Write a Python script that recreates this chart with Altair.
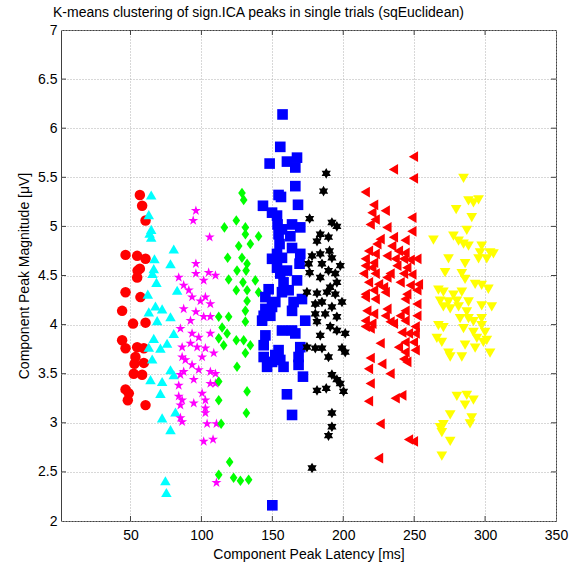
import altair as alt
import pandas as pd

# ---- data (latency ms, magnitude uV) ----
c1_x = [56.6, 58.2, 60.6, 46.5, 54.7, 60.6, 56.6, 54.7, 57.0, 46.5, 44.1, 51.8, 60.6, 44.1, 46.5,
        54.7, 59.4, 53.5, 52.8, 59.4, 52.3, 58.2, 46.5, 48.8, 48.1, 60.6, 55.0]
c1_y = [5.32, 5.21, 5.06, 4.71, 4.70, 4.67, 4.57, 4.48, 4.28, 4.33, 4.14, 4.01, 4.02, 3.84, 3.76,
        3.77, 3.76, 3.67, 3.60, 3.61, 3.50, 3.49, 3.34, 3.30, 3.23, 3.18, 4.55]

c2_x = [64.6, 62.9, 64.6, 64.6, 63.5, 80.5, 66.9, 78.2, 66.4, 65.5, 68.3, 82.9, 62.2, 67.6, 72.3,
        62.9, 78.2, 68.8, 80.5, 66.4, 75.8, 71.1, 62.9, 65.3, 78.2, 64.1, 72.3, 80.5, 71.1, 81.7,
        72.3, 78.2, 74.6, 75.3]
c2_y = [5.32, 5.12, 4.97, 4.89, 4.93, 4.77, 4.67, 4.62, 4.57, 4.52, 4.43, 4.35, 4.31, 4.19, 4.16,
        4.13, 4.08, 4.04, 3.91, 3.86, 3.81, 3.76, 3.77, 3.65, 3.54, 3.44, 3.42, 3.49, 3.30, 3.11,
        3.05, 2.93, 2.41, 2.29]

c3_x = [96.1, 94.2, 105.8, 96.1, 105.1, 109.9, 84.0, 96.1, 101.6, 87.5, 91.1, 93.4, 99.3, 102.8,
        106.3, 87.5, 96.1, 101.6, 92.3, 85.2, 106.3, 93.4, 98.1, 106.3, 92.3, 97.0, 86.4, 102.8,
        108.7, 86.4, 88.7, 100.5, 93.4, 87.5, 98.1, 106.3, 109.9, 85.2, 94.6, 106.3, 109.9, 84.0,
        100.5, 84.0, 86.4, 94.6, 102.8, 85.2, 102.8, 102.8, 85.2, 86.4, 104.0, 110.6, 101.6, 108.2,
        110.6]
c3_y = [5.16, 5.06, 4.89, 4.62, 4.53, 4.50, 4.48, 4.52, 4.45, 4.40, 4.35, 4.28, 4.24, 4.28, 4.21,
        4.16, 4.13, 4.08, 4.04, 3.96, 4.08, 3.91, 3.87, 3.91, 3.81, 3.77, 3.77, 3.76, 3.71, 3.67,
        3.64, 3.67, 3.59, 3.52, 3.54, 3.52, 3.50, 3.49, 3.44, 3.40, 3.40, 3.38, 3.30, 3.27, 3.23,
        3.20, 3.23, 3.18, 3.15, 3.10, 3.05, 3.01, 2.99, 2.99, 2.81, 2.83, 2.39]

c4_x = [128.6, 129.8, 124.6, 116.2, 131.0, 126.3, 118.5, 128.6, 125.1, 119.2, 129.3, 124.6, 132.2,
        112.2, 119.2, 114.6, 118.1, 131.0, 112.2, 115.7, 124.6, 129.8, 131.0, 125.1, 112.2, 132.2,
        112.2, 131.7, 113.9, 119.9, 112.2, 122.7, 127.5, 133.3, 131.0, 140.3, 134.5, 132.2, 131.5,
        138.0, 132.2, 140.3, 131.0, 134.5]
c4_y = [5.34, 5.27, 5.06, 4.99, 4.99, 4.80, 4.68, 4.68, 4.55, 4.46, 4.43, 4.35, 4.24, 4.08, 4.08,
        3.97, 3.91, 4.03, 3.86, 3.79, 3.84, 3.84, 3.71, 3.57, 3.42, 3.32, 3.23, 3.10, 2.99, 2.60,
        2.47, 2.44, 2.41, 2.42, 4.92, 4.90, 4.82, 4.62, 4.55, 4.45, 4.35, 4.33, 4.14, 3.79]

c5_x = [157.2, 155.6, 148.1, 160.3, 167.4, 166.2, 166.2, 154.4, 156.1, 143.4, 168.1, 149.8, 153.3,
        153.7, 156.8, 163.9, 169.7, 154.4, 162.7, 155.1, 163.9, 169.7, 153.3, 149.8, 156.8, 169.2,
        153.3, 160.3, 155.6, 157.9, 167.4, 147.4, 161.5, 156.8, 145.1, 170.9, 152.1, 165.0, 145.1,
        149.8, 163.9, 143.9, 148.6, 142.8, 173.2, 156.8, 163.9, 166.2, 145.1, 169.7, 143.9, 154.4,
        152.1, 168.5, 143.9, 149.8, 155.6, 157.9, 146.3, 168.5, 171.6, 160.3, 163.9, 150.0]
c5_y = [6.14, 5.81, 5.64, 5.66, 5.70, 5.60, 5.41, 5.32, 5.30, 5.21, 5.22, 5.14, 5.11, 5.02, 4.97,
        5.02, 4.99, 4.92, 4.90, 4.82, 4.78, 4.72, 4.72, 4.67, 4.68, 4.62, 4.58, 4.55, 4.52, 4.43,
        4.45, 4.36, 4.35, 4.33, 4.28, 4.26, 4.23, 4.23, 4.16, 4.18, 4.14, 4.09, 4.09, 4.04, 4.04,
        3.94, 3.94, 3.91, 3.89, 3.77, 3.79, 3.74, 3.69, 3.67, 3.67, 3.62, 3.64, 3.57, 3.57, 3.59,
        3.47, 3.29, 3.08, 2.16]

c6_x = [188.0, 186.1, 176.3, 192.0, 195.5, 183.8, 189.6, 181.5, 190.3, 178.0, 183.8, 192.0, 175.6,
        185.0, 197.9, 189.6, 194.4, 176.3, 183.8, 195.5, 190.8, 174.4, 181.5, 188.5, 194.4, 199.1,
        180.3, 185.0, 192.0, 180.3, 187.3, 195.5, 181.5, 190.8, 195.5, 201.4, 183.8, 174.4, 180.3,
        185.0, 199.1, 201.4, 189.6, 192.0, 195.5, 197.9, 181.5, 188.0, 200.2, 192.0, 192.0, 189.6,
        178.0]
c6_y = [5.54, 5.36, 5.08, 5.04, 5.00, 4.92, 4.89, 4.85, 4.75, 4.70, 4.72, 4.68, 4.62, 4.62, 4.60,
        4.55, 4.52, 4.53, 4.48, 4.43, 4.38, 4.33, 4.32, 4.33, 4.31, 4.23, 4.21, 4.23, 4.18, 4.11,
        4.11, 4.08, 4.03, 3.98, 3.94, 3.91, 3.89, 3.77, 3.76, 3.76, 3.76, 3.72, 3.67, 3.49, 3.44,
        3.40, 3.33, 3.35, 3.32, 3.10, 2.96, 2.87, 2.54]

c7_x = [249.5, 235.4, 249.5, 215.5, 221.4, 220.2, 229.6, 222.5, 219.0, 248.4, 230.8, 248.4, 226.0,
        223.7, 235.4, 234.2, 243.6, 217.8, 222.5, 238.9, 243.6, 215.5, 221.4, 230.8, 236.6, 242.5,
        247.2, 251.9, 215.5, 220.2, 237.8, 244.8, 214.3, 222.5, 233.0, 242.5, 248.4, 230.8, 217.8,
        224.9, 240.1, 247.2, 253.0, 215.5, 221.4, 228.4, 229.6, 244.8, 251.9, 215.5, 222.5, 243.6,
        251.9, 216.6, 221.4, 230.8, 229.6, 243.6, 240.1, 251.9, 215.5, 220.2, 233.0, 235.4, 243.6,
        215.5, 219.0, 250.7, 241.3, 246.0, 250.7, 243.6, 249.5, 226.0, 238.9, 243.6, 250.7, 219.0,
        242.5, 244.8, 227.2, 217.8, 233.0, 219.0, 241.3, 236.6, 217.8, 226.0, 246.0, 249.5, 224.9]
c7_y = [5.71, 5.58, 5.49, 5.35, 5.22, 5.14, 5.16, 5.07, 5.02, 5.09, 4.99, 4.95, 4.87, 4.82, 4.89,
        4.80, 4.86, 4.75, 4.72, 4.75, 4.73, 4.67, 4.63, 4.70, 4.67, 4.67, 4.66, 4.67, 4.60, 4.58,
        4.60, 4.58, 4.52, 4.52, 4.52, 4.52, 4.51, 4.48, 4.43, 4.41, 4.43, 4.40, 4.41, 4.31, 4.35,
        4.38, 4.33, 4.31, 4.35, 4.28, 4.26, 4.26, 4.21, 4.14, 4.11, 4.16, 4.09, 4.14, 4.09, 4.09,
        4.04, 4.01, 4.03, 4.01, 4.04, 3.98, 3.96, 3.98, 3.92, 3.91, 3.91, 3.82, 3.82, 3.81, 3.77,
        3.72, 3.74, 3.66, 3.65, 3.62, 3.60, 3.55, 3.50, 3.40, 3.28, 3.25, 3.22, 2.99, 2.83, 2.81,
        2.64]

c8_x = [284.8, 288.3, 295.4, 291.8, 279.6, 290.6, 287.1, 263.6, 277.7, 281.3, 284.8, 288.3, 297.6,
        303.5, 305.9, 296.5, 301.2, 295.4, 274.2, 285.9, 271.8, 283.6, 285.9, 293.0, 297.6, 302.3,
        267.1, 270.6, 283.6, 277.7, 268.3, 274.2, 280.1, 288.3, 270.6, 275.4, 281.3, 297.6, 304.7,
        287.1, 282.4, 288.3, 297.6, 267.1, 270.6, 284.8, 291.8, 297.6, 291.8, 300.0, 266.0, 269.5,
        294.2, 298.8, 285.9, 301.2, 293.0, 274.2, 275.4, 283.6, 303.5, 280.1, 287.1, 291.8, 285.9,
        275.4, 290.6, 289.4, 270.6, 268.3, 269.5, 275.4, 269.5]
c8_y = [5.49, 5.26, 5.27, 5.24, 5.17, 5.09, 4.96, 4.86, 4.90, 4.85, 4.82, 4.80, 4.80, 4.73, 4.72,
        4.73, 4.67, 4.67, 4.67, 4.62, 4.53, 4.52, 4.46, 4.41, 4.40, 4.36, 4.35, 4.33, 4.33, 4.30,
        4.24, 4.23, 4.24, 4.23, 4.18, 4.16, 4.18, 4.19, 4.18, 4.13, 4.06, 4.06, 4.06, 3.99, 3.97,
        3.96, 4.03, 3.99, 3.92, 3.92, 3.86, 3.82, 3.86, 3.82, 3.79, 3.84, 3.76, 3.71, 3.67, 3.67,
        3.71, 3.27, 3.28, 3.23, 3.18, 3.08, 3.05, 2.99, 2.98, 2.95, 2.90, 2.81, 2.66]

cluster_names = ["c1", "c2", "c3", "c4", "c5", "c6", "c7", "c8"]
cluster_colors = ["#ff0000", "#00ffff", "#ff00ff", "#00ff00", "#0000ff", "#000000", "#ff0000", "#ffff00"]

x_ticks = [50, 100, 150, 200, 250, 300, 350]
y_ticks = [2, 2.5, 3, 3.5, 4, 4.5, 5, 5.5, 6, 6.5, 7]
x_inner_ticks = [50, 100, 150, 200, 250, 300]
y_inner_ticks = [2.5, 3, 3.5, 4, 4.5, 5, 5.5, 6, 6.5]

# ---- marker shapes (MATLAB-like) ----
PENTAGRAM = ("M0,-1L0.2245,-0.309L0.951,-0.309L0.3633,0.118L0.5878,0.809L0,0.382"
             "L-0.5878,0.809L-0.3633,0.118L-0.951,-0.309L-0.2245,-0.309Z")
HEXAGRAM = ("M0,-1L0.2887,-0.5L0.866,-0.5L0.577,0L0.866,0.5L0.2887,0.5L0,1"
            "L-0.2887,0.5L-0.866,0.5L-0.577,0L-0.866,-0.5L-0.2887,-0.5Z")
DIAMOND = "M0,-1L0.72,0L0,1L-0.72,0Z"
cluster_shapes = ["circle", "triangle-up", PENTAGRAM, DIAMOND, "square", HEXAGRAM,
                  "triangle-left", "triangle-down"]
cluster_sizes = [110, 115, 125, 100, 72, 110, 115, 115]

xs = [c1_x, c2_x, c3_x, c4_x, c5_x, c6_x, c7_x, c8_x]
ys = [c1_y, c2_y, c3_y, c4_y, c5_y, c6_y, c7_y, c8_y]
rows = []
for name, xl, yl in zip(cluster_names, xs, ys):
    for a, b in zip(xl, yl):
        rows.append({"lat": a, "mag": b, "cluster": name})
df = pd.DataFrame(rows)

FONT = "Liberation Sans"
XDOM = [1, 350]
YDOM = [2, 7]
W, H = 495, 491
FRAME = "#404040"

xs_scale = alt.Scale(domain=XDOM, nice=False, zero=False)
ys_scale = alt.Scale(domain=YDOM, nice=False, zero=False)
x_axis = alt.Axis(values=x_ticks, title="Component Peak Latency [ms]", grid=True,
                  domain=False, ticks=False, tickSize=0, labelPadding=7,
                  labelFlush=False, titlePadding=5)
y_axis = alt.Axis(values=y_ticks, title="Component Peak Magnitude [μV]", grid=True,
                  domain=False, ticks=False, tickSize=0, labelPadding=4,
                  format="~g", titlePadding=6)

points = alt.Chart(df).mark_point(filled=True, opacity=1, strokeWidth=0).encode(
    x=alt.X("lat:Q", scale=xs_scale, axis=x_axis),
    y=alt.Y("mag:Q", scale=ys_scale, axis=y_axis),
    color=alt.Color("cluster:N", scale=alt.Scale(domain=cluster_names, range=cluster_colors), legend=None),
    shape=alt.Shape("cluster:N", scale=alt.Scale(domain=cluster_names, range=cluster_shapes), legend=None),
    size=alt.Size("cluster:N", scale=alt.Scale(domain=cluster_names, range=cluster_sizes), legend=None),
)

xt = pd.DataFrame({"lat": x_inner_ticks})
yt = pd.DataFrame({"mag": y_inner_ticks})
tick_style = dict(color=FRAME, strokeWidth=1)
xtick_bottom = alt.Chart(xt).mark_rule(**tick_style).encode(
    x=alt.X("lat:Q", scale=xs_scale, axis=x_axis), y=alt.value(H), y2=alt.value(H - 5))
xtick_top = alt.Chart(xt).mark_rule(**tick_style).encode(
    x=alt.X("lat:Q", scale=xs_scale, axis=x_axis), y=alt.value(0), y2=alt.value(5))
ytick_left = alt.Chart(yt).mark_rule(**tick_style).encode(
    y=alt.Y("mag:Q", scale=ys_scale, axis=y_axis), x=alt.value(0), x2=alt.value(5))
ytick_right = alt.Chart(yt).mark_rule(**tick_style).encode(
    y=alt.Y("mag:Q", scale=ys_scale, axis=y_axis), x=alt.value(W), x2=alt.value(W - 5))

chart = alt.layer(points, xtick_bottom, xtick_top, ytick_left, ytick_right).properties(
    width=W, height=H,
    autosize=alt.AutoSizeParams(type="none"),
    padding={"left": 61, "top": 30, "right": 19, "bottom": 44},
    title=alt.TitleParams(
        text="K-means clustering of sign.ICA peaks in single trials (sqEuclidean)",
        anchor="start", frame="group", dx=-8, offset=3, fontSize=14, fontWeight="normal",
        font=FONT, color="black"),
    background="white",
).configure_view(
    stroke=FRAME, strokeWidth=1
).configure_axis(
    labelFont=FONT, labelFontSize=14, labelColor="black",
    titleFont=FONT, titleFontSize=14, titleFontWeight="normal", titleColor="black",
    gridColor="#b0b0b0", gridDash=[1, 2], gridWidth=1,
)

chart.save("out.html", embed_options={"renderer": "svg", "actions": False})
